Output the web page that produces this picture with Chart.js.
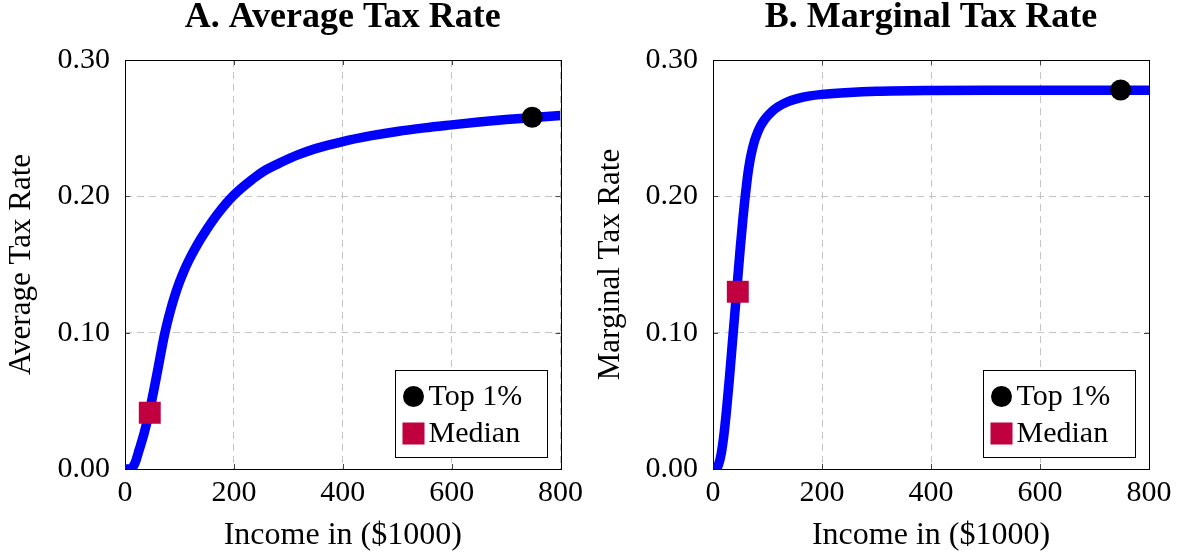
<!DOCTYPE html>
<html>
<head>
<meta charset="utf-8">
<script src="https://cdn.jsdelivr.net/npm/chart.js"></script>
<style>
  body { margin: 0; background: #fff; }
  #wrap { position: relative; width: 1178px; height: 556px; }
  canvas { position: absolute; top: 0; }
</style>
</head>
<body>
<div id="wrap">
  <canvas id="avg" width="589" height="556" style="left:0"></canvas>
  <canvas id="marg" width="589" height="556" style="left:589px"></canvas>
</div>
<script>
// A. average tax rate curve
let income_avg = [0, 10, 18, 26, 35, 45, 55, 64, 72, 77, 84, 91, 100, 108, 116, 132, 149, 172, 199, 235, 255, 290, 315, 350, 400, 450, 500, 550, 600, 650, 700, 750, 800];
let rate_avg = [0, 0, 0.004, 0.014, 0.026, 0.0425, 0.062, 0.081, 0.0975, 0.1063, 0.117, 0.1265, 0.137, 0.145, 0.152, 0.164, 0.175, 0.188, 0.2005, 0.2128, 0.2185, 0.2255, 0.23, 0.235, 0.2402, 0.2443, 0.2476, 0.2502, 0.2524, 0.2545, 0.2563, 0.2578, 0.2593];

// B. marginal tax rate curve
let income_marg = [0, 5, 10, 15, 20, 25, 30, 35, 40, 45, 50, 55, 58, 61, 64, 67.5, 71, 75, 79.5, 87, 95, 107, 119, 135, 153, 175, 200, 250, 300, 400, 500, 600, 700, 800];
let rate_marg = [0, 0, 0.003, 0.011, 0.025, 0.044, 0.066, 0.09, 0.114, 0.138, 0.162, 0.184, 0.196, 0.2065, 0.2165, 0.2255, 0.2325, 0.239, 0.2445, 0.2515, 0.2565, 0.2618, 0.2656, 0.269, 0.2715, 0.2735, 0.2748, 0.2762, 0.277, 0.2776, 0.2778, 0.2778, 0.2778, 0.2778];

// marked points
let top_income = 748;
let top_avg = 0.258;
let top_marg = 0.278;
let median_income = 45.5;
let median_avg = 0.0412;
let median_marg = 0.13;

let x_ticks = [0, 200, 400, 600, 800];
let y_ticks = [0, 0.1, 0.2, 0.3];

Chart.defaults.font.family = "'Liberation Serif', 'Times New Roman', serif";
Chart.defaults.color = "#000";

// black frame + small inner tick marks (drawn under the curve)
const frame = {
  id: "frame",
  beforeDatasetsDraw(chart) {
    const { ctx, chartArea: a, scales } = chart;
    ctx.save();
    ctx.strokeStyle = "#444";
    ctx.lineWidth = 1;
    ctx.beginPath();
    x_ticks.forEach((v) => {
      const px = Math.round(scales.x.getPixelForValue(v)) + 0.5;
      ctx.moveTo(px, a.bottom); ctx.lineTo(px, a.bottom - 5);
      ctx.moveTo(px, a.top); ctx.lineTo(px, a.top + 5);
    });
    y_ticks.forEach((v) => {
      const py = Math.round(scales.y.getPixelForValue(v)) + 0.5;
      ctx.moveTo(a.left, py); ctx.lineTo(a.left + 5, py);
      ctx.moveTo(a.right, py); ctx.lineTo(a.right - 5, py);
    });
    ctx.stroke();
    ctx.strokeStyle = "#000";
    ctx.strokeRect(Math.round(a.left) + 0.5, Math.round(a.top) + 0.5, Math.round(a.width), Math.round(a.height));
    ctx.restore();
  },
};

// legend box in the lower right corner of the plot
const boxLegend = {
  id: "boxLegend",
  afterDatasetsDraw(chart) {
    const { ctx, chartArea: a } = chart;
    const w = 152, h = 87;
    const x0 = Math.round(a.right - 14 - w) + 0.5;
    const y0 = Math.round(a.bottom - 12 - h) + 0.5;
    ctx.save();
    ctx.fillStyle = "#fff";
    ctx.fillRect(x0, y0, w, h);
    ctx.strokeStyle = "#000";
    ctx.lineWidth = 1;
    ctx.strokeRect(x0, y0, w, h);
    let row = 0;
    chart.data.datasets.forEach((d) => {
      if (!d.label) return;
      const cy = y0 + 26 + row * 37;
      const cx = x0 + 18;
      ctx.fillStyle = d.backgroundColor;
      if (d.pointStyle === "rect") {
        ctx.fillRect(cx - 11, cy - 11, 22, 22);
      } else {
        ctx.beginPath();
        ctx.arc(cx, cy, 10.5, 0, Math.PI * 2);
        ctx.fill();
      }
      ctx.fillStyle = "#000";
      ctx.font = "30px 'Liberation Serif', serif";
      ctx.textBaseline = "middle";
      ctx.textAlign = "left";
      ctx.fillText(d.label, x0 + 33, cy + 1);
      row++;
    });
    ctx.restore();
  },
};

function makeChart(id, title, ytitle, xs, ys, topY, medY, axisWidth, padRight) {
  const curve = xs.map((x, i) => ({ x: x, y: ys[i] }));
  return new Chart(document.getElementById(id), {
    type: "line",
    data: {
      datasets: [
        {
          label: "",
          data: curve,
          order: 2,
          borderColor: "#0000ff",
          borderWidth: 9.5,
          pointRadius: 0,
          cubicInterpolationMode: "monotone",
          fill: false,
        },
        {
          label: "Top 1%",
          data: [{ x: top_income, y: topY }],
          order: 0,
          showLine: false,
          pointStyle: "circle",
          pointRadius: 10.5,
          backgroundColor: "#000",
          borderWidth: 0,
        },
        {
          label: "Median",
          data: [{ x: median_income, y: medY }],
          order: 0,
          showLine: false,
          pointStyle: "rect",
          pointRadius: 15.5,
          backgroundColor: "#c0003f",
          borderWidth: 0,
        },
      ],
    },
    options: {
      responsive: false,
      animation: false,
      layout: { padding: { left: 0, right: padRight, top: 0, bottom: 0 } },
      plugins: {
        legend: { display: false },
        tooltip: { enabled: false },
        title: {
          display: true,
          text: title,
          fullSize: false,
          color: "#000",
          font: { size: 36, weight: "bold", lineHeight: 1 },
          padding: { top: 0, bottom: 24 },
        },
      },
      scales: {
        x: {
          type: "linear",
          min: 0,
          max: 800,
          afterBuildTicks: (s) => { s.ticks = x_ticks.map((v) => ({ value: v })); },
          afterFit: (s) => { s.height = 87; },
          ticks: { font: { size: 30 }, padding: 6, maxRotation: 0 },
          grid: { color: "#c4c4c4", drawTicks: false },
          border: { display: false, dash: [7, 5] },
          title: { display: true, text: "Income in ($1000)", font: { size: 32 }, padding: { top: 0, bottom: 1 } },
        },
        y: {
          min: 0,
          max: 0.3,
          afterBuildTicks: (s) => { s.ticks = y_ticks.map((v) => ({ value: v })); },
          afterFit: (s) => { s.width = axisWidth; },
          ticks: { font: { size: 30 }, padding: 15, callback: (v) => v.toFixed(2) },
          grid: { color: "#c4c4c4", drawTicks: false },
          border: { display: false, dash: [7, 5] },
          title: { display: true, text: ytitle, font: { size: 31 }, padding: { top: 3, bottom: 0 } },
        },
      },
    },
    plugins: [frame, boxLegend],
  });
}

makeChart("avg", "A. Average Tax Rate", "Average Tax Rate", income_avg, rate_avg, top_avg, median_avg, 125, 27);
makeChart("marg", "B. Marginal Tax Rate", "Marginal Tax Rate", income_marg, rate_marg, top_marg, median_marg, 124, 29);
</script>
</body>
</html>
